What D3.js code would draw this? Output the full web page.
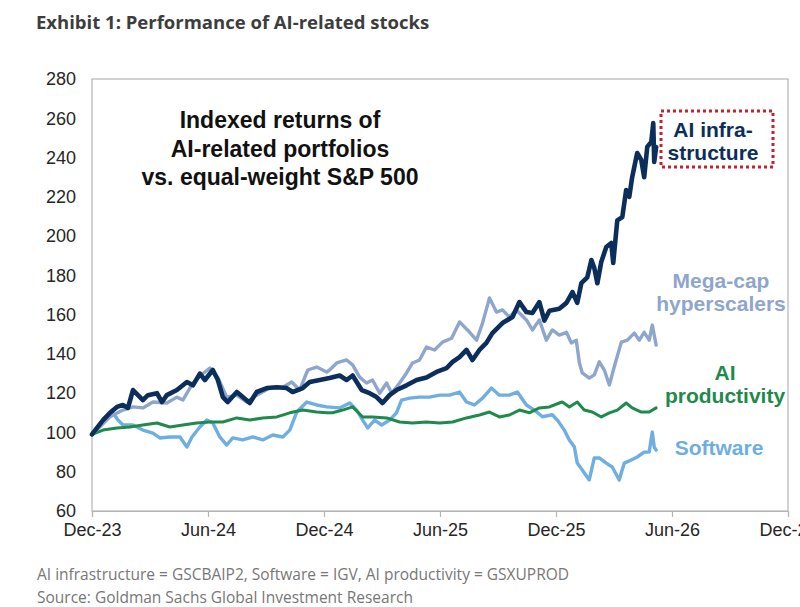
<!DOCTYPE html>
<html>
<head>
<meta charset="utf-8">
<script src="https://cdn.jsdelivr.net/npm/d3@7"></script>
<style>
  html, body { margin: 0; padding: 0; background: #fff; }
  svg { display: block; }
</style>
</head>
<body>
<svg id="chart" width="800" height="607"></svg>
<script>
// ---- Data (x = months since Dec-23, y = indexed return) ----
const monthTicks = [0, 6, 12, 18, 24, 30, 36];
const tickLabels = ['Dec-23', 'Jun-24', 'Dec-24', 'Jun-25', 'Dec-25', 'Jun-26', 'Dec-26'];
const yTicks = [60, 80, 100, 120, 140, 160, 180, 200, 220, 240, 260, 280];

const aiInfra = [[0,99],[0.57,106.3],[0.93,110],[1.29,113],[1.60,114],[1.86,112.5],[2.12,121.6],[2.48,118],[2.63,116.5],[2.89,119],[3.36,120],[3.62,115.5],[3.87,119],[4.39,121.6],[4.91,125.7],[5.22,124],[5.58,130],[5.84,126.7],[6.25,131.8],[6.51,126.7],[6.77,118],[7.02,115.5],[7.49,120.6],[7.80,118],[8.16,115],[8.52,120.6],[9.04,122.6],[9.56,123],[10.07,122.6],[10.38,120.6],[10.90,122.6],[11.26,125.7],[11.78,126.7],[12.29,127.7],[12.81,129],[13.17,126.7],[13.48,129],[13.95,121.6],[14.36,120],[14.72,118],[15.03,115],[15.39,119],[15.75,121.6],[16.27,124],[16.79,126.7],[17.30,128],[17.82,130.8],[18.34,132.8],[18.65,135.9],[19.01,138.4],[19.37,142],[19.68,136.9],[20.04,142],[20.40,145.6],[20.71,150.6],[21.23,155.7],[21.75,158.8],[22.11,166.4],[22.47,161.3],[22.78,160.8],[23.14,166.4],[23.40,157],[23.66,162],[24.17,163],[24.54,166],[24.85,171.5],[25.10,166],[25.31,176],[25.62,179],[25.83,187.8],[25.98,183.8],[26.14,176],[26.34,186.8],[26.60,194.4],[26.86,196.5],[26.96,186.3],[27.17,208],[27.43,209.7],[27.63,223.5],[27.79,220],[27.94,230],[28.20,242.3],[28.41,238.8],[28.56,230],[28.72,245.4],[28.93,248],[29.03,257.6],[29.08,237.7],[29.18,245.4]];

const megaCap = [[0,99],[0.93,108],[1.60,111.4],[2.12,113],[2.63,112.5],[3.15,115.5],[3.87,115],[4.39,118],[4.70,116.5],[5.22,125.2],[5.73,130],[6.10,132.8],[6.51,128],[6.97,118],[7.49,119],[8.01,115.5],[8.52,119],[9.19,122.6],[9.87,123],[10.33,125.7],[10.74,121.6],[11.16,131.8],[11.62,133.3],[12.14,130.8],[12.29,131.8],[12.66,135.4],[13.17,136.9],[13.48,134.4],[13.84,128.2],[14.20,125.2],[14.51,126.7],[14.88,120],[15.24,125.2],[15.50,120],[15.91,125.2],[16.27,130.3],[16.58,135.4],[16.94,136.9],[17.30,143.5],[17.72,142],[18.13,146],[18.60,148],[19.01,156.3],[19.42,152.2],[19.89,147],[20.20,155.7],[20.56,168.5],[20.92,161.3],[21.23,162.4],[21.59,158.8],[21.95,162.4],[22.47,157.3],[22.78,152.2],[23.14,157.3],[23.50,147],[23.81,152.2],[24.17,149.6],[24.54,151],[24.79,145.6],[25.05,147],[25.21,135.4],[25.36,130.3],[25.72,127.7],[25.98,129.3],[26.24,136],[26.50,131.8],[26.76,124.2],[27.01,133.3],[27.38,146],[27.69,147],[28.05,150.6],[28.31,147],[28.56,151],[28.82,147],[28.98,154.7],[29.18,144.5]];

const software = [[0,99],[0.57,104.8],[1.08,110],[1.34,106.3],[1.60,103.8],[2.12,103.8],[2.63,101.2],[3.15,99.7],[3.51,97.2],[4.03,97.7],[4.55,97.7],[4.91,92.6],[5.17,97.7],[5.58,102.8],[5.94,106.3],[6.25,104.8],[6.61,97.7],[6.97,93.6],[7.28,97.2],[7.80,96.2],[8.32,97.7],[8.83,96.2],[9.35,98.7],[9.87,97.7],[10.23,101.2],[10.59,110.4],[11.11,115.5],[11.62,114],[12.14,113],[12.81,112.5],[13.33,115],[13.69,111.4],[14.00,106.3],[14.26,102.3],[14.62,106.3],[14.98,103.8],[15.39,106.3],[15.75,110],[16.01,116.5],[16.43,117.5],[16.94,118],[17.46,118],[17.98,119],[18.49,119],[19.01,120.6],[19.37,115.5],[19.78,114],[20.20,117.5],[20.66,122.6],[21.07,119],[21.59,119],[22.00,120.6],[22.47,114],[22.88,111.4],[23.30,108],[23.81,109],[24.07,106.3],[24.43,101.2],[24.69,96.2],[24.95,92.6],[25.10,84.4],[25.36,80.9],[25.72,75.8],[25.98,87],[26.24,87],[26.60,84.4],[26.91,82.4],[27.27,75.8],[27.53,84.4],[27.89,86],[28.20,87.5],[28.56,90],[28.82,90],[28.98,100.2],[29.08,92.6],[29.18,91]];

const aiProductivity = [[0,99],[0.57,101.2],[1.29,102.3],[1.96,102.8],[2.63,103.8],[3.36,104.8],[4.03,102.8],[4.70,103.8],[5.42,104.8],[6.10,105.3],[6.77,105.3],[7.49,107.4],[8.16,106.3],[8.83,107.4],[9.56,107.9],[10.23,110],[10.90,111.4],[11.62,110.4],[12.14,110],[12.45,110],[12.96,111.4],[13.48,113],[14.00,107.9],[14.51,107.9],[15.24,107.4],[15.91,105.3],[16.58,104.8],[17.30,105.3],[17.98,104.8],[18.65,105.3],[19.37,107.4],[20.04,108.9],[20.56,110.4],[21.07,107.9],[21.59,108.9],[22.11,111.4],[22.62,110],[23.14,112.5],[23.66,113],[24.17,115],[24.33,115.5],[24.69,113],[25.10,115.5],[25.46,111.4],[25.88,110.4],[26.34,107.9],[26.76,110],[27.17,111.4],[27.63,115],[27.94,112.5],[28.41,110.4],[28.82,110.4],[29.18,112.5]];

// ---- Layout ----
const svg = d3.select('#chart');
const L = 92, R = 788, T = 79, B = 511;
const x = d3.scaleLinear().domain([0, 36]).range([L, R]);
const y = d3.scaleLinear().domain([60, 280]).range([B, T]);

svg.append('rect').attr('width', 800).attr('height', 607).attr('fill', '#fff');

// Title
svg.append('text').attr('x', 36).attr('y', 29)
  .attr('font-family', 'Open Sans, sans-serif').attr('font-weight', 700)
  .attr('font-size', 18.5).attr('fill', '#3d3d3d')
  .text('Exhibit 1: Performance of AI-related stocks');

// Frame
svg.append('rect').attr('x', L).attr('y', T).attr('width', R - L).attr('height', B - T)
  .attr('fill', 'none').attr('stroke', '#b5b5b5').attr('stroke-width', 1.2);

// Axes
const xAxis = svg.append('g').attr('transform', `translate(0,${B})`)
  .call(d3.axisBottom(x).tickValues(monthTicks).tickFormat((d, i) => tickLabels[i]).tickSize(6).tickPadding(6));
xAxis.select('.domain').attr('stroke', '#b5b5b5').attr('stroke-width', 1.2);
xAxis.selectAll('.tick line').attr('stroke', '#b5b5b5').attr('stroke-width', 1.2);
xAxis.selectAll('.tick text').attr('font-family', 'Liberation Sans, Arial, sans-serif')
  .attr('font-size', 18).attr('fill', '#262626');

const yAxis = svg.append('g').attr('transform', `translate(${L},0)`)
  .call(d3.axisLeft(y).tickValues(yTicks).tickSize(0).tickPadding(16));
yAxis.select('.domain').remove();
yAxis.selectAll('.tick text').attr('font-family', 'Liberation Sans, Arial, sans-serif')
  .attr('font-size', 18).attr('fill', '#262626');

// Lines
const line = d3.line().x(d => x(d[0])).y(d => y(d[1]));
const series = [
  { data: software, color: '#6eaee0', width: 3.4 },
  { data: aiProductivity, color: '#1f8a4b', width: 3 },
  { data: megaCap, color: '#8ea6cc', width: 3.4 },
  { data: aiInfra, color: '#0c2e5a', width: 4.6 }
];
svg.append('g').selectAll('path').data(series).join('path')
  .attr('d', d => line(d.data))
  .attr('fill', 'none')
  .attr('stroke', d => d.color)
  .attr('stroke-width', d => d.width)
  .attr('stroke-linejoin', 'round')
  .attr('stroke-linecap', 'round');

// Inner title
const innerTitle = ['Indexed returns of', 'AI-related portfolios', 'vs. equal-weight S&P 500'];
svg.append('g').selectAll('text').data(innerTitle).join('text')
  .attr('x', 280).attr('y', (d, i) => 128 + i * 28.5)
  .attr('text-anchor', 'middle')
  .attr('font-family', 'Liberation Sans, Arial, sans-serif').attr('font-weight', 700)
  .attr('font-size', 23).attr('fill', '#111')
  .text(d => d);

// Series labels
const labels = [
  { lines: ['AI infra-', 'structure'], x: 713, y: 137, color: '#0c2e5a' },
  { lines: ['Mega-cap', 'hyperscalers'], x: 721, y: 288, color: '#8ea6cc' },
  { lines: ['AI', 'productivity'], x: 725, y: 380, color: '#1f8a4b' },
  { lines: ['Software'], x: 719, y: 455, color: '#6eaee0' }
];
labels.forEach(lb => {
  svg.append('g').selectAll('text').data(lb.lines).join('text')
    .attr('x', lb.x).attr('y', (d, i) => lb.y + i * 23)
    .attr('text-anchor', 'middle')
    .attr('font-family', 'Liberation Sans, Arial, sans-serif').attr('font-weight', 700)
    .attr('font-size', 21).attr('fill', lb.color)
    .text(d => d);
});

// Red dotted box around AI infrastructure label
svg.append('rect').attr('x', 661).attr('y', 111).attr('width', 112).attr('height', 56)
  .attr('fill', 'none').attr('stroke', '#c8202c').attr('stroke-width', 3)
  .attr('stroke-dasharray', '3,3');

// Footnotes
svg.append('text').attr('x', 37).attr('y', 580)
  .attr('font-family', 'Open Sans, sans-serif').attr('font-size', 15.5).attr('fill', '#777')
  .text('AI infrastructure = GSCBAIP2, Software = IGV, AI productivity = GSXUPROD');
svg.append('text').attr('x', 37).attr('y', 603)
  .attr('font-family', 'Open Sans, sans-serif').attr('font-size', 15.5).attr('fill', '#777')
  .text('Source: Goldman Sachs Global Investment Research');
</script>
</body>
</html>
